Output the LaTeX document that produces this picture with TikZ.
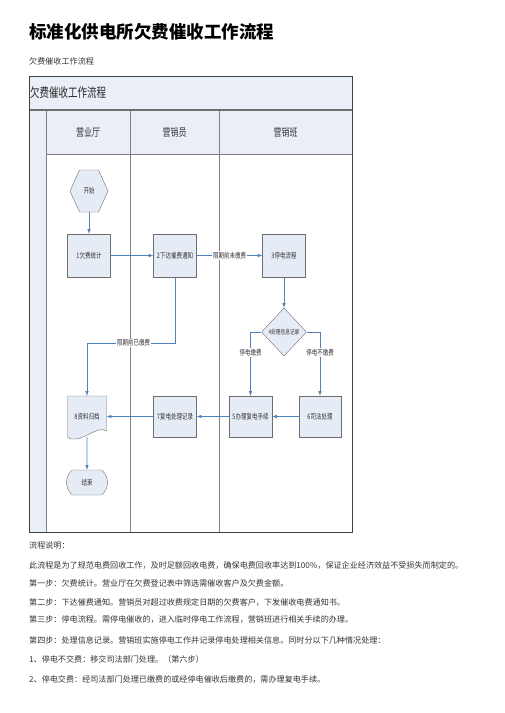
\documentclass[tikz,border=0pt]{standalone}
\usepackage{fontspec}
\setmainfont{Noto Sans CJK SC}
\usetikzlibrary{shapes.geometric,shapes.misc}
\definecolor{laneblue}{HTML}{E9EEF7}
\definecolor{boxblue}{HTML}{E6ECF6}
\definecolor{linkblue}{HTML}{4F81BD}
\definecolor{edgegray}{HTML}{6E6E6E}
\newcommand{\tallsc}[1]{\scalebox{1}[1.35]{#1}}

\begin{document}
\begin{tikzpicture}[x=1pt,y=-1pt,
    stepbox/.style={draw=edgegray,fill=boxblue,minimum width=43pt,minimum height=43pt,inner sep=1pt,text=black!80,font=\fontsize{5.5}{6}\selectfont},
    link/.style={draw=linkblue,line width=.6pt,-latex},
    tag/.style={fill=white,inner sep=1pt,text=black!80,font=\fontsize{5.5}{6}\selectfont},
    para/.style={anchor=west,inner sep=0pt,text=black!80,font=\fontsize{8.1}{9}\selectfont}]
    \useasboundingbox (0,0) rectangle (504,713);
    \node[anchor=west,inner sep=0pt,font=\fontsize{17.5}{18}\selectfont\bfseries] (title) at (29,32) {标准化供电所欠费催收工作流程};
    \node[para] (sub) at (29,61) {欠费催收工作流程};
    % swimlane frame
    \fill[laneblue] (29,76) rectangle (352,154);
    \fill[laneblue] (29,110) rectangle (46,532);
    \draw[gray,line width=.8pt] (46,110) -- (46,532) (130,110) -- (130,532) (219,110) -- (219,532) (46,154) -- (352,154);
    \draw[edgegray,line width=1.5pt] (29,110) -- (352,110);
    \draw[black!75,line width=.8pt] (29,76) rectangle (352,532);
    \node[anchor=west,inner sep=0pt,text=black!85,font=\fontsize{9.5}{10}\selectfont] (head) at (30,93) {\tallsc{欠费催收工作流程}};
    \node[text=black!80,font=\fontsize{8}{9}\selectfont] (lane1) at (88,132) {\tallsc{营业厅}};
    \node[text=black!80,font=\fontsize{8}{9}\selectfont] (lane2) at (174.5,132) {\tallsc{营销员}};
    \node[text=black!80,font=\fontsize{8}{9}\selectfont] (lane3) at (285.5,132) {\tallsc{营销班}};
    % steps
    \filldraw[draw=edgegray,fill=boxblue] (70,191) -- (79.5,170) -- (98.5,170) -- (108,191) -- (98.5,212) -- (79.5,212) -- cycle;
    \node[stepbox,draw=none,fill=none,minimum width=38pt,minimum height=42pt] (start) at (89,191) {\tallsc{开始}};
    \node[stepbox] (box1) at (89,255.5) {\tallsc{1欠费统计}};
    \node[stepbox] (box2) at (175,255.5) {\tallsc{2下达催费通知}};
    \node[stepbox] (box3) at (284,255.5) {\tallsc{3停电流程}};
    \node[stepbox,diamond,minimum width=45pt,minimum height=48pt,inner sep=0pt,font=\fontsize{4.7}{5}\selectfont] (rec) at (284,332) {\tallsc{4处理信息记录}};
    \node[stepbox,minimum height=41pt] (box5) at (250.5,416.5) {\tallsc{5办理复电手续}};
    \node[stepbox,minimum width=42pt,minimum height=41pt] (box6) at (320,416.5) {\tallsc{6司法处理}};
    \node[stepbox,minimum height=41pt] (box7) at (175,416.5) {\tallsc{7复电处理记录}};
    \filldraw[draw=edgegray,fill=boxblue] (67.5,396) -- (106.5,396) -- (106.5,431) .. controls (97,424) and (79,446) .. (67.5,437) -- cycle;
    \node[stepbox,draw=none,fill=none,minimum width=39pt,minimum height=41pt] (doc) at (87,416.5) {\tallsc{8资料归档}};
    \node[stepbox,rounded rectangle,rounded rectangle arc length=100,minimum width=43pt,minimum height=25pt] (end) at (87,482.5) {\tallsc{结束}};
    \coordinate (turn) at (175,343);
    % links
    \draw[link] (start) -- (box1);
    \draw[link] (box1) -- (box2);
    \draw[link] (box2) -- node[tag]{\tallsc{限期前未缴费}} (box3);
    \draw[link] (box3) -- (rec);
    \draw[link] (rec.west) -| node[tag,pos=.66]{\tallsc{停电缴费}} (box5);
    \draw[link] (rec.east) -| node[tag,pos=.66]{\tallsc{停电不缴费}} (box6);
    \draw[link] (box6) -- (box5);
    \draw[link] (box5) -- (box7);
    \draw[link] (box7) -- (doc);
    \draw[link] (doc.south) -- (end);
    \draw[link] (box2) -- (turn) -- node[tag,pos=.47]{\tallsc{限期前已缴费}} (turn -| doc) -- (doc);
    % notes
    \node[para] (n0) at (29,545) {流程说明：};
    \node[para] (n1) at (29,565) {此流程是为了规范电费回收工作，及时足额回收电费，确保电费回收率达到100\%，保证企业经济效益不受损失而制定的。};
    \node[para] (n2) at (29,583) {第一步：欠费统计。营业厅在欠费登记表中筛选需催收客户及欠费金额。};
    \node[para] (n3) at (29,602) {第二步：下达催费通知。营销员对超过收费规定日期的欠费客户，下发催收电费通知书。};
    \node[para] (n4) at (29,620) {第三步：停电流程。需停电催收的，进入临时停电工作流程，营销班进行相关手续的办理。};
    \node[para] (n5) at (29,640) {第四步：处理信息记录。营销班实施停电工作并记录停电处理相关信息。同时分以下几种情况处理：};
    \node[para] (n6) at (29,659) {1、停电不交费：移交司法部门处理。（第六步）};
    \node[para] (n7) at (29,679) {2、停电交费：经司法部门处理已缴费的或经停电催收后缴费的，需办理复电手续。};
\end{tikzpicture}
\end{document}
